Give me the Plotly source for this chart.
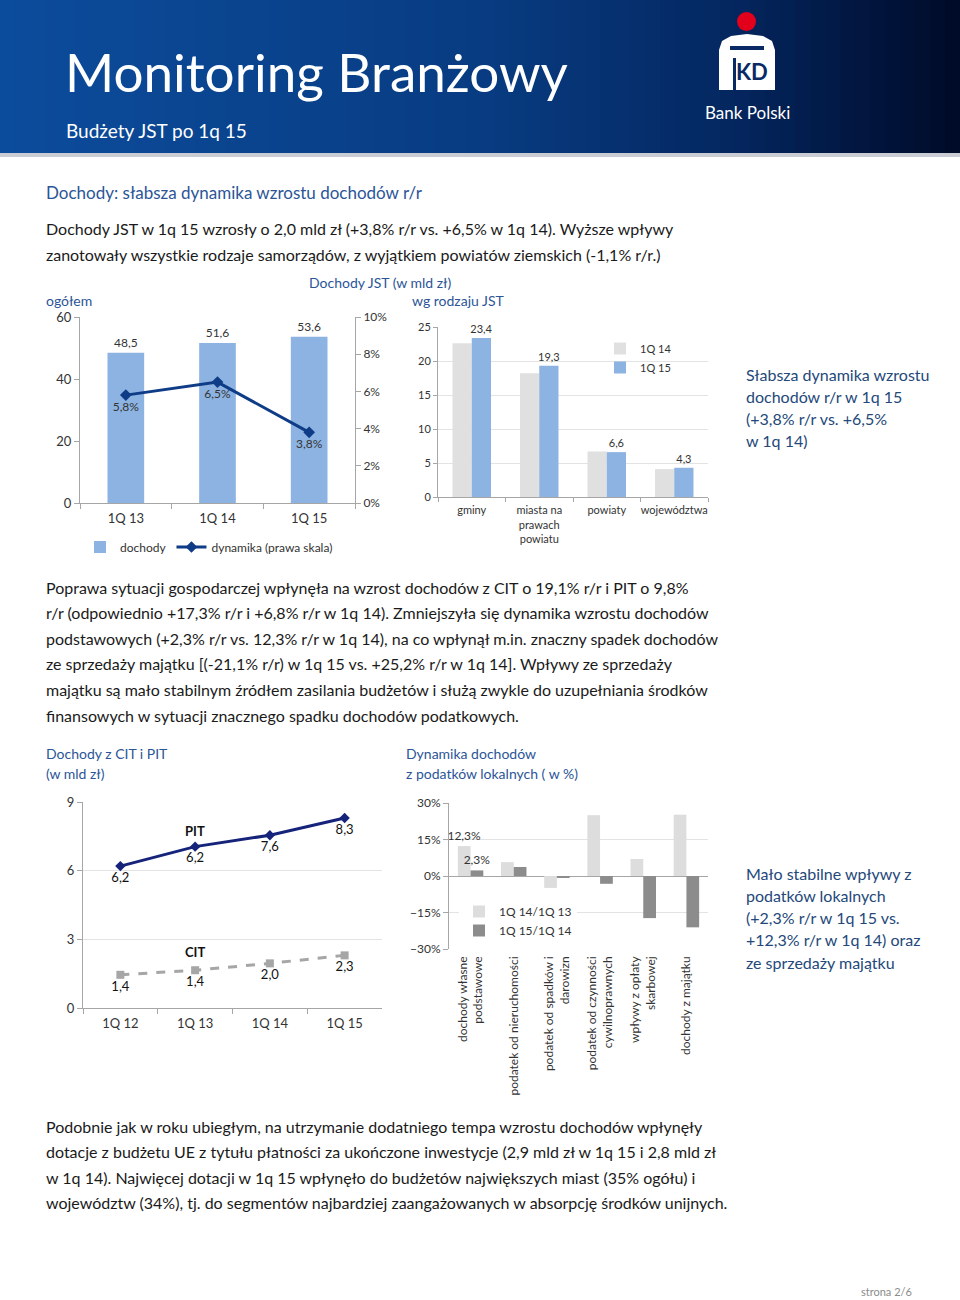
import plotly.graph_objects as go

W, H = 960, 1300
def px(x): return x / W
def py(y): return 1 - y / H

FONT = "Lato"
TXT = "#333333"
BODY = "#1a1a1a"
HEAD = "#2B5597"
CALL = "#24487A"
AX = "#A6A6A6"
GRID = "#E3E3E3"

# ---------------- data ----------------
q_cats = ["1Q 13", "1Q 14", "1Q 15"]
dochody = [48.5, 51.6, 53.6]
dochody_labels = ["48,5", "51,6", "53,6"]
dynamika = [0.058, 0.065, 0.038]
dynamika_labels = ["5,8%", "6,5%", "3,8%"]

jst_cats = ["gminy", "miasta na<br>prawach<br>powiatu", "powiaty", "województwa"]
jst_1q14 = [22.6, 18.2, 6.7, 4.1]
jst_1q15 = [23.4, 19.3, 6.6, 4.3]
jst_1q15_labels = ["23,4", "19,3", "6,6", "4,3"]

tax_cats = ["1Q 12", "1Q 13", "1Q 14", "1Q 15"]
pit = [6.2, 7.05, 7.55, 8.3]
pit_labels = ["6,2", "6,2", "7,6", "8,3"]
cit = [1.45, 1.65, 1.95, 2.3]
cit_labels = ["1,4", "1,4", "2,0", "2,3"]

loc_cats = ["dochody własne<br>podstawowe", "podatek od nieruchomości",
            "podatek od spadków i<br>darowizn", "podatek od czynności<br>cywilnoprawnych",
            "wpływy z opłaty<br>skarbowej", "dochody z majątku"]
loc_1q14 = [12.3, 5.7, -4.9, 25.0, 7.0, 25.2]
loc_1q15 = [2.3, 3.7, -0.8, -3.2, -17.3, -21.1]
loc_1q14_labels = ["12,3%", "", "", "", "", ""]
loc_1q15_labels = ["2,3%", "", "", "", "", ""]

fig = go.Figure()

# ---- chart 1 ----
fig.add_trace(go.Bar(x=q_cats, y=dochody, name="dochody", text=dochody_labels,
                     textposition="outside", marker_color="#8DB3E2", width=0.4, offset=-0.2,
                     textfont=dict(size=12, color=TXT), cliponaxis=False, constraintext="none",
                     xaxis="x", yaxis="y", legend="legend"))
fig.add_trace(go.Scatter(x=q_cats, y=dynamika, name="dynamika (prawa skala)",
                         mode="lines+markers+text", text=dynamika_labels, textposition="bottom center",
                         textfont=dict(size=12, color=TXT),
                         line=dict(color="#0E3C86", width=3),
                         marker=dict(symbol="diamond", size=9, color="#0E3C86"),
                         cliponaxis=False, xaxis="x", yaxis="y2", legend="legend"))

# ---- chart 2 ----
fig.add_trace(go.Bar(x=jst_cats, y=jst_1q14, name="1Q 14", marker_color="#E0E0E0",
                     width=0.285, offset=-0.285, xaxis="x2", yaxis="y3", legend="legend2"))
fig.add_trace(go.Bar(x=jst_cats, y=jst_1q15, name="1Q 15", marker_color="#8DB3E2",
                     width=0.285, offset=0, text=jst_1q15_labels, textposition="outside",
                     textfont=dict(size=11, color=TXT), cliponaxis=False, constraintext="none",
                     xaxis="x2", yaxis="y3", legend="legend2"))

# ---- chart 3 ----
fig.add_trace(go.Scatter(x=tax_cats, y=pit, name="PIT", mode="lines+markers+text",
                         text=pit_labels, textposition="bottom center",
                         textfont=dict(size=13, color="#111111"),
                         line=dict(color="#16237A", width=3),
                         marker=dict(symbol="diamond", size=8, color="#16237A"),
                         cliponaxis=False, showlegend=False, xaxis="x3", yaxis="y4"))
fig.add_trace(go.Scatter(x=tax_cats, y=cit, name="CIT", mode="lines+markers+text",
                         text=cit_labels, textposition="bottom center",
                         textfont=dict(size=13, color="#111111"),
                         line=dict(color="#A6A6A6", width=3, dash="dash"),
                         marker=dict(symbol="square", size=8, color="#A6A6A6"),
                         cliponaxis=False, showlegend=False, xaxis="x3", yaxis="y4"))

# ---- chart 4 ----
fig.add_trace(go.Bar(x=loc_cats, y=loc_1q14, name="1Q 14/1Q 13", marker_color="#DDDDDD",
                     width=0.295, offset=-0.295, text=loc_1q14_labels, textposition="outside",
                     textfont=dict(size=12, color=TXT), cliponaxis=False, constraintext="none",
                     xaxis="x4", yaxis="y5", legend="legend3"))
fig.add_trace(go.Bar(x=loc_cats, y=loc_1q15, name="1Q 15/1Q 14", marker_color="#8C8C8C",
                     width=0.295, offset=0, text=loc_1q15_labels, textposition="outside",
                     textfont=dict(size=12, color=TXT), cliponaxis=False, constraintext="none",
                     xaxis="x4", yaxis="y5", legend="legend3"))

def axis(**kw):
    d = dict(automargin=False, linecolor=AX, tickcolor=AX, showline=True,
             tickfont=dict(size=12, color=TXT, family=FONT), showgrid=False,
             zeroline=False, fixedrange=True, ticks="outside", ticklen=5)
    d.update(kw)
    return d

layout = dict(
    width=W, height=H, autosize=False, template="none",
    margin=dict(l=0, r=0, t=0, b=0), paper_bgcolor="white", plot_bgcolor="rgba(0,0,0,0)",
    font=dict(family=FONT, color=TXT), separators=", ",
    xaxis=axis(domain=[px(80), px(355)], anchor="y", tickson="boundaries", type="category",
               tickangle=0, ticklabelstandoff=3, tickfont=dict(size=13, color=TXT, family=FONT)),
    yaxis=axis(domain=[py(503), py(317)], anchor="x", range=[0, 60], tickvals=[0, 20, 40, 60],
               tickfont=dict(size=13, color=TXT, family=FONT)),
    yaxis2=axis(overlaying="y", side="right", anchor="x", range=[0, 0.10],
                tickvals=[0, 0.02, 0.04, 0.06, 0.08, 0.10], tickformat=".0%"),
    xaxis2=axis(domain=[px(438), px(708)], anchor="y3", tickson="boundaries", type="category",
                tickangle=0, ticklabelstandoff=3, tickfont=dict(size=11, color=TXT, family=FONT),
                ticklen=4),
    yaxis3=axis(domain=[py(497), py(327)], anchor="x2", range=[0, 25], dtick=5,
                showgrid=True, gridcolor=GRID, tickfont=dict(size=11, color=TXT, family=FONT), ticklen=4),
    xaxis3=axis(domain=[px(83), px(382)], anchor="y4", tickson="boundaries", type="category",
                range=[-0.5, 3.5], tickangle=0, ticklabelstandoff=3,
                tickfont=dict(size=13, color=TXT, family=FONT)),
    yaxis4=axis(domain=[py(1008), py(802)], anchor="x3", range=[0, 9], dtick=3,
                showgrid=True, gridcolor=GRID, tickfont=dict(size=13, color=TXT, family=FONT)),
    xaxis4=axis(domain=[px(449), px(708)], anchor="y5", type="category", showline=False,
                ticks="", tickangle=-90, ticklabelstandoff=4,
                tickfont=dict(size=12, color=TXT, family=FONT)),
    yaxis5=axis(domain=[py(949), py(803)], anchor="x4", range=[-30, 30], dtick=15,
                ticksuffix="%", showgrid=True, gridcolor=GRID, zeroline=True,
                zerolinecolor=AX, zerolinewidth=1),
    legend=dict(x=px(80), y=py(547), xanchor="left", yanchor="middle", orientation="h",
                font=dict(size=12, color=TXT), bgcolor="rgba(0,0,0,0)", itemwidth=30),
    legend2=dict(x=px(600), y=py(334), xanchor="left", yanchor="top", orientation="v",
                 font=dict(size=11, color=TXT), bgcolor="rgba(0,0,0,0)", tracegroupgap=0,
                 itemwidth=30),
    legend3=dict(x=px(459), y=py(897), xanchor="left", yanchor="top", orientation="v",
                 font=dict(size=12, color=TXT), bgcolor="white", tracegroupgap=0, itemwidth=30),
)
fig.update_layout(**layout)

# ---------------- header shapes ----------------
shapes = []
stops = [(0.0, (12, 76, 156)), (0.5, (8, 60, 130)), (0.75, (4, 40, 98)), (1.0, (0, 10, 40))]
def grad(t):
    for (a, ca), (b, cb) in zip(stops[:-1], stops[1:]):
        if a <= t <= b:
            f = (t - a) / (b - a)
            return "rgb(%d,%d,%d)" % tuple(round(ca[i] + (cb[i] - ca[i]) * f) for i in range(3))
    return "rgb(0,10,40)"
N = 64
for i in range(N):
    x0 = i * W / N
    x1 = (i + 1) * W / N + 1
    shapes.append(dict(type="rect", xref="paper", yref="paper", x0=px(x0), x1=px(min(x1, W)),
                       y0=py(153), y1=1, line=dict(width=0), fillcolor=grad((i + 0.5) / N), layer="below"))
shapes.append(dict(type="rect", xref="paper", yref="paper", x0=0, x1=1, y0=py(157), y1=py(153),
                   line=dict(width=0), fillcolor="#C9CDD3", layer="below"))

def ppath(pts, close=True):
    s = "M" + " L".join("%.5f,%.5f" % (px(x), py(y)) for x, y in pts)
    return s + (" Z" if close else "")

# logo
shapes.append(dict(type="circle", xref="paper", yref="paper", x0=px(737), x1=px(756),
                   y0=py(31), y1=py(12), fillcolor="#E2001A", line=dict(width=0)))
logo_pts = [(719, 90), (719, 50), (722, 41), (731, 36), (747, 34), (763, 36), (772, 41), (775, 50), (775, 90)]
shapes.append(dict(type="path", xref="paper", yref="paper", path=ppath(logo_pts),
                   fillcolor="white", line=dict(width=0)))
shapes.append(dict(type="rect", xref="paper", yref="paper", x0=px(730), x1=px(764),
                   y0=py(50), y1=py(46), fillcolor="#0A2A66", line=dict(width=0)))
shapes.append(dict(type="rect", xref="paper", yref="paper", x0=px(733), x1=px(736),
                   y0=py(90), y1=py(58), fillcolor="#0A2A66", line=dict(width=0)))
fig.update_layout(shapes=shapes)

# ---------------- text ----------------
ann = []
def txt(x, y, s, size, color=BODY, anchor="left", family=FONT, **kw):
    ann.append(dict(x=px(x), y=py(y), xref="paper", yref="paper", text=s, showarrow=False,
                    xanchor=anchor, yanchor="middle", font=dict(size=size, color=color, family=family), **kw))

txt(63, 72, "Monitoring Branżowy", 53, "white")
txt(64, 131, "Budżety JST po 1q 15", 19, "white")
txt(752, 71, "<b>KD</b>", 22, "#0A2A66", anchor="center")
txt(747, 113, "Bank Polski", 17, "white", anchor="center")

LX = 44
txt(LX, 193, "Dochody: słabsza dynamika wzrostu dochodów r/r", 17, HEAD)
txt(LX, 229, "Dochody JST w 1q 15 wzrosły o 2,0 mld zł (+3,8% r/r vs. +6,5% w 1q 14). Wyższe wpływy", 16)
txt(LX, 255, "zanotowały wszystkie rodzaje samorządów, z wyjątkiem powiatów ziemskich (-1,1% r/r.)", 16)

txt(380, 283, "Dochody JST (w mld zł)", 14, HEAD, anchor="center")
txt(LX, 300, "ogółem", 14, HEAD)
txt(458, 300, "wg rodzaju JST", 14, HEAD, anchor="center")

callout1 = ["Słabsza dynamika wzrostu", "dochodów r/r w 1q 15", "(+3,8% r/r vs. +6,5%", "w 1q 14)"]
for i, line in enumerate(callout1):
    txt(744, 374 + i * 22.3, line, 16, CALL)

para2 = [
    "Poprawa sytuacji gospodarczej wpłynęła na wzrost dochodów z CIT o 19,1% r/r i PIT o 9,8%",
    "r/r (odpowiednio +17,3% r/r i +6,8% r/r w 1q 14). Zmniejszyła się dynamika wzrostu dochodów",
    "podstawowych (+2,3% r/r vs. 12,3% r/r w 1q 14), na co wpłynął m.in. znaczny spadek dochodów",
    "ze sprzedaży majątku [(-21,1% r/r) w 1q 15 vs. +25,2% r/r w 1q 14]. Wpływy ze sprzedaży",
    "majątku są mało stabilnym źródłem zasilania budżetów i służą zwykle do uzupełniania środków",
    "finansowych w sytuacji znacznego spadku dochodów podatkowych.",
]
for i, line in enumerate(para2):
    txt(LX, 587 + i * 25.6, line, 16)

txt(LX, 753, "Dochody z CIT i PIT", 14, HEAD)
txt(LX, 773, "(w mld zł)", 14, HEAD)
txt(404, 753, "Dynamika dochodów", 14, HEAD)
txt(404, 773, "z podatków lokalnych ( w %)", 14, HEAD)

callout2 = ["Mało stabilne wpływy z", "podatków lokalnych", "(+2,3% r/r w 1q 15 vs.",
            "+12,3% r/r w 1q 14) oraz", "ze sprzedaży majątku"]
for i, line in enumerate(callout2):
    txt(744, 873 + i * 22.3, line, 16, CALL)

para3 = [
    "Podobnie jak w roku ubiegłym, na utrzymanie dodatniego tempa wzrostu dochodów wpłynęły",
    "dotacje z budżetu UE z tytułu płatności za ukończone inwestycje (2,9 mld zł w 1q 15 i 2,8 mld zł",
    "w 1q 14). Najwięcej dotacji w 1q 15 wpłynęło do budżetów największych miast (35% ogółu) i",
    "województw (34%), tj. do segmentów najbardziej zaangażowanych w absorpcję środków unijnych.",
]
for i, line in enumerate(para3):
    txt(LX, 1126 + i * 25.6, line, 16)

txt(914, 1291, "strona 2/6", 11, "#8C8C8C", anchor="right")

# series name labels in chart 3
ann.append(dict(x="1Q 13", y=7.75, xref="x3", yref="y4", text="<b>PIT</b>", showarrow=False,
                font=dict(size=13, color="#111111", family=FONT)))
ann.append(dict(x="1Q 13", y=2.45, xref="x3", yref="y4", text="<b>CIT</b>", showarrow=False,
                font=dict(size=13, color="#111111", family=FONT)))

fig.update_layout(annotations=ann)
fig.write_html("out.html", config={"displayModeBar": False},
               post_script="document.body.style.margin='0';document.body.style.padding='0';"
                           "document.documentElement.style.overflow='hidden';")
